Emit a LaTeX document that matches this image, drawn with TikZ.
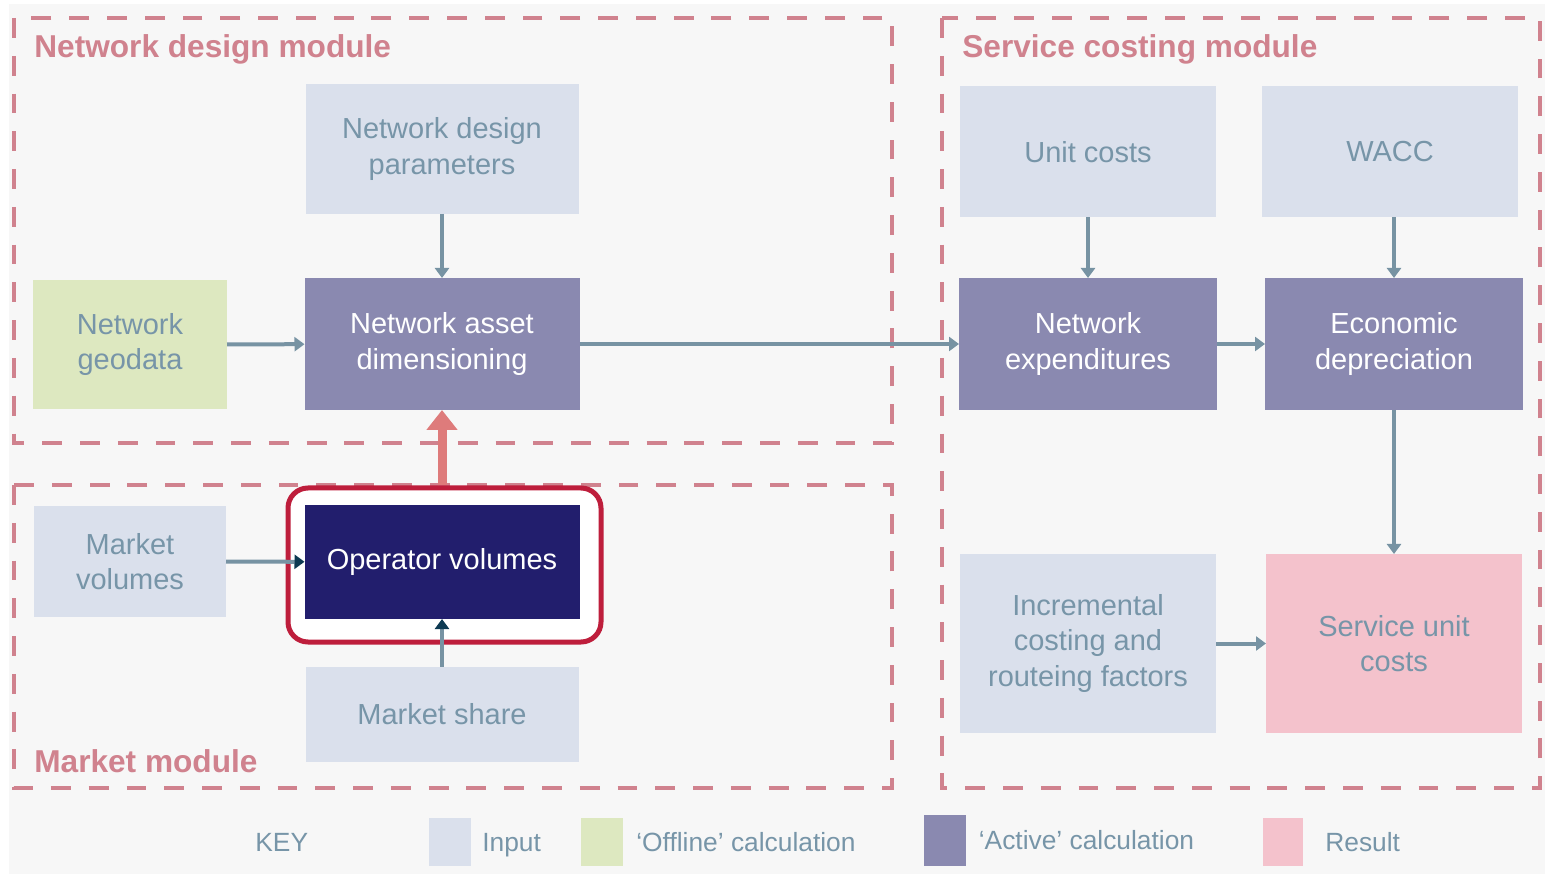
\documentclass[tikz,border=0pt]{standalone}
\usepackage{fontspec}
\setmainfont{Liberation Sans}
\usetikzlibrary{arrows.meta, positioning, calc}
\newcommand{\px}{*0.02cm}
\newcommand{\tip}{{Triangle[length=10\px, width=14\px]}}
\newcommand{\bigTip}{{Triangle[length=20\px, width=30\px]}}
\newcommand{\lineWidth}{4\px}
\newcommand{\boxWidth}{273\px}
\newcommand{\boxHeight}{131\px}
\definecolor{bgGrey}{HTML}{F7F7F7}
\definecolor{inputFill}{HTML}{DAE0EC}
\definecolor{offlineFill}{HTML}{DDE8C0}
\definecolor{activeFill}{HTML}{8A89B0}
\definecolor{resultFill}{HTML}{F4C2CC}
\definecolor{operatorFill}{HTML}{221E6D}
\definecolor{textGrey}{HTML}{7795A8}
\definecolor{moduleRed}{HTML}{D0828E}
\definecolor{arrowGrey}{HTML}{7793A3}
\definecolor{darkTip}{HTML}{0D3A52}
\definecolor{upRed}{HTML}{DE7B7B}
\definecolor{frameRed}{HTML}{BE1E3C}
\tikzstyle{panel}=[draw=none, inner sep=0, outer sep=0, align=center, font=\fontsize{16.5}{20}\selectfont]
\tikzstyle{input}=[panel, fill=inputFill, text=textGrey]
\tikzstyle{offline}=[panel, fill=offlineFill, text=textGrey]
\tikzstyle{active}=[panel, fill=activeFill, text=white]
\tikzstyle{result}=[panel, fill=resultFill, text=textGrey]
\tikzstyle{module}=[draw=moduleRed, line width=2.8pt, dash pattern=on 11.3pt off 10.2pt]
\tikzstyle{title}=[anchor=west, inner sep=0, text=moduleRed, font=\fontsize{18}{22}\selectfont\bfseries]
\tikzstyle{line}=[draw=arrowGrey, line width=\lineWidth]
\tikzstyle{arrow}=[line, -\tip]
\tikzstyle{darkArrow}=[line, -{Triangle[length=10\px, width=14\px, color=darkTip]}]
\tikzstyle{swatch}=[panel, minimum width=42\px, minimum height=48\px]
\tikzstyle{keyText}=[inner sep=0, anchor=west, yshift=-3\px, text height=0.72em, text depth=0pt, text=textGrey, font=\fontsize{15}{18}\selectfont]

\begin{document}
\begin{tikzpicture}[x=0.02cm, y=-0.02cm]

% Frame
\useasboundingbox (0,0) rectangle (1545,874);
\fill[bgGrey] (9,4) rectangle (1545,874);

% Modules
\draw[module] (14,18) rectangle (892,443);
\draw[module] (14,485) rectangle (892,788);
\draw[module] (942,18) rectangle (1540,788);
\node[title] (designTitle) at (34,49) {Network design module};
\node[title] (marketTitle) at (34,761) {Market module};
\node[title] (costingTitle) at (962,49) {Service costing module};

% Network design module
\node[input, minimum width=\boxWidth, minimum height=130\px] (designParams) at (442,149) {Network design\\parameters};
\node[offline, minimum width=194\px, minimum height=129\px] (geodata) at (130,344.5) {Network\\geodata};
\node[active, minimum width=275\px, minimum height=132\px] (assetDim) at (442,344) {Network asset\\dimensioning};

% Market module
\node[input, minimum width=192\px, minimum height=111\px] (marketVol) at (130,561.5) {Market\\volumes};
\node[draw=frameRed, line width=5\px, fill=white, rounded corners=20\px, minimum width=313\px, minimum height=154\px, inner sep=0] (opFrame) at (444.5,565) {};
\node[panel, fill=operatorFill, text=white, minimum width=275\px, minimum height=114\px] (opVol) at (442,562) {Operator volumes};
\node[input, minimum width=\boxWidth, minimum height=95\px] (marketShare) at (442,714) {Market share};

% Service costing module
\node[input, minimum width=256\px, minimum height=\boxHeight] (unitCosts) at (1088,152) {Unit costs};
\node[input, minimum width=256\px, minimum height=\boxHeight] (wacc) at (1390,152) {WACC};
\node[active, minimum width=258\px, minimum height=132\px] (netExp) at (1088,344) {Network\\expenditures};
\node[active, minimum width=258\px, minimum height=132\px] (econDep) at (1394,344) {Economic\\depreciation};
\node[input, minimum width=256\px, minimum height=179\px] (incFactors) at (1088,643.5) {Incremental\\costing and\\routeing factors};
\node[result, minimum width=256\px, minimum height=179\px] (unitResult) at (1394,643.5) {Service unit\\costs};

% Connectors
\draw[arrow] (designParams) -- (assetDim);
\draw[arrow] (geodata) -- (assetDim);
\draw[arrow] (assetDim) -- (netExp);
\draw[arrow] (unitCosts) -- (netExp);
\draw[arrow] (wacc.south -| econDep) -- (econDep);
\draw[arrow] (netExp) -- (econDep);
\draw[arrow] (econDep) -- (unitResult);
\draw[arrow] (incFactors) -- (unitResult);
\draw[darkArrow] (marketVol) -- (opVol);
\draw[darkArrow] (marketShare) -- (opVol);
\draw[draw=upRed, line width=9\px, -\bigTip] (opFrame.north -| assetDim) -- (assetDim);

% Key
\node[keyText] (keyLabel) at (255,842) {KEY};
\node[swatch, fill=inputFill] (keyInput) at (450,842) {};
\node[keyText, right=11\px of keyInput] (keyInputText) {Input};
\node[swatch, fill=offlineFill] (keyOffline) at (602,842) {};
\node[keyText, right=13\px of keyOffline] (keyOfflineText) {`Offline' calculation};
\node[swatch, fill=activeFill, minimum height=51\px] (keyActive) at (944.5,840.5) {};
\node[keyText, right=13\px of keyActive] (keyActiveText) {`Active' calculation};
\node[swatch, fill=resultFill, minimum width=40\px] (keyResult) at (1283,842) {};
\node[keyText, right=22\px of keyResult] (keyResultText) {Result};

\end{tikzpicture}
\end{document}
